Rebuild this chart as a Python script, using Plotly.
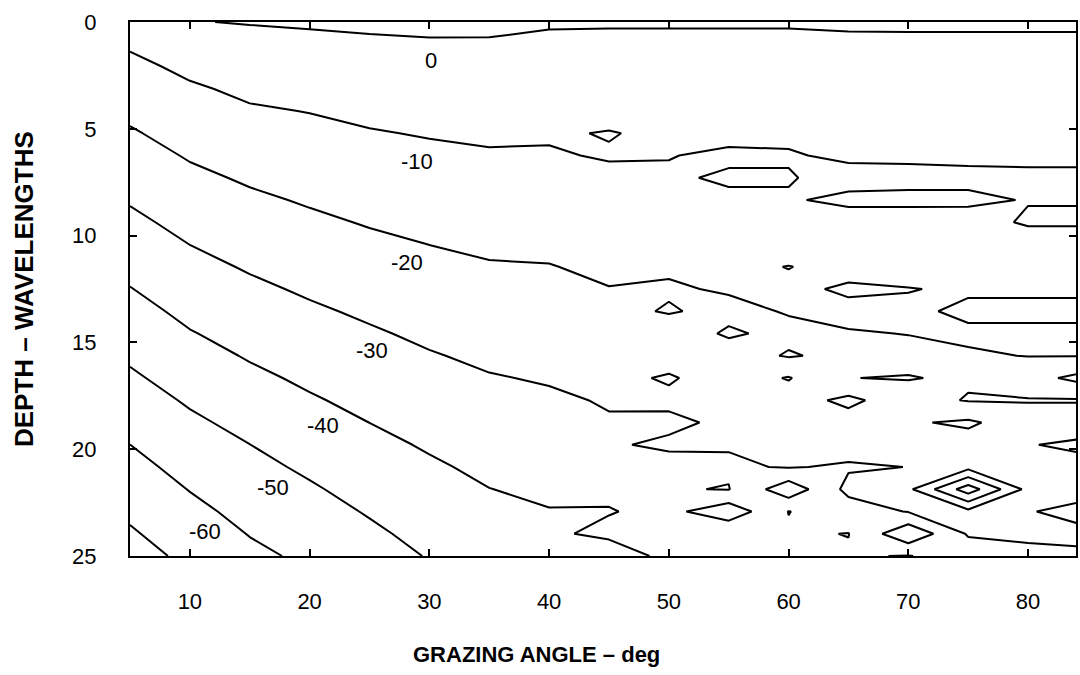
import plotly.graph_objects as go

# Grazing angle columns (deg) and depth rows (wavelengths) of the contour grid
angle = [5, 10, 15, 20, 25, 30, 35, 40, 45, 50, 55, 60, 65, 70, 75, 80, 85]
depth = [0, 1.042, 2.083, 3.125, 4.167, 5.208, 6.25, 7.292, 8.333, 9.375, 10.417,
         11.458, 12.5, 13.542, 14.583, 15.625, 16.667, 17.708, 18.75, 19.792,
         20.833, 21.875, 22.917, 23.958, 25.0]

# Level (dB) read along each angle column, top to bottom
c5 = [-1.87, -8.82, -12.37, -15.23, -18.09, -20.92, -23.69, -26.47, -29.25, -32.02, -34.78, -37.54, -40.3, -43.09, -45.85, -48.59, -51.41, -54.28, -57.15, -60.03, -62.79, -65.55, -68.32, -71.08, -73.84]
c10 = [-0.27, -4.07, -7.87, -11.18, -13.86, -16.54, -19.22, -21.9, -24.58, -27.26, -29.95, -32.58, -35.21, -37.84, -40.5, -43.3, -46.1, -48.91, -51.64, -54.32, -57.0, -59.68, -62.38, -65.08, -67.78]
c15 = [0.37, -2.48, -5.33, -8.18, -10.95, -13.6, -16.24, -18.89, -21.48, -24.04, -26.6, -29.16, -31.69, -34.21, -36.73, -39.24, -41.91, -44.63, -47.36, -50.07, -52.46, -54.86, -57.25, -59.64, -62.03]
c20 = [0.88, -1.78, -4.44, -7.1, -9.76, -12.13, -14.47, -16.81, -19.16, -21.55, -23.97, -26.39, -28.81, -31.23, -33.63, -36.03, -38.44, -40.89, -43.43, -45.98, -48.52, -51.02, -53.44, -55.86, -58.27]
c25 = [1.28, -1.09, -3.46, -5.83, -8.2, -10.53, -12.76, -14.98, -17.2, -19.4, -21.72, -24.04, -26.36, -28.68, -30.97, -33.21, -35.46, -37.71, -39.96, -42.28, -44.62, -46.95, -49.28, -51.59, -53.89]
c30 = [1.54, -0.66, -2.86, -5.07, -7.27, -9.47, -11.59, -13.68, -15.77, -17.87, -19.96, -22.08, -24.2, -26.32, -28.43, -30.56, -32.69, -34.83, -36.97, -39.1, -41.2, -43.27, -45.34, -47.4, -49.47]
c35 = [1.4, -0.63, -2.66, -4.69, -6.71, -8.74, -10.75, -12.72, -14.69, -16.65, -18.62, -20.59, -22.57, -24.55, -26.53, -28.51, -30.48, -32.41, -34.33, -36.26, -38.19, -40.12, -42.05, -43.98, -45.91]
c40 = [0.66, -1.27, -3.2, -5.13, -7.05, -8.98, -10.88, -12.76, -14.64, -16.52, -18.4, -20.27, -22.09, -23.9, -25.72, -27.53, -29.35, -31.17, -33.0, -34.84, -36.67, -38.5, -40.33, -41.67, -43.5]
c45 = [0.5, -1.22, -2.94, -4.66, -6.38, -10.5, -9.2, -12.2, -13.8, -15.4, -17.0, -18.6, -20.2, -22.03, -23.87, -25.71, -27.55, -29.39, -30.6, -31.0, -34.5, -38.1, -40.5, -37.7, -46.5]
c50 = [0.49, -1.21, -2.92, -4.62, -6.33, -8.03, -9.73, -11.0, -13.42, -15.29, -17.15, -19.01, -20.8, -19.4, -24.18, -25.87, -31.0, -28.0, -32.0, -28.4, -33.7, -30.5, -37.4, -37.0, -36.9]
c55 = [0.54, -1.33, -3.21, -5.08, -6.96, -7.9, -11.3, -9.0, -11.4, -13.36, -15.33, -17.29, -19.25, -22.0, -19.0, -23.77, -25.21, -26.65, -28.09, -29.5, -31.0, -29.7, -46.3, -31.0, -36.0]
c60 = [0.54, -1.31, -3.15, -5.0, -6.84, -8.45, -10.64, -9.5, -10.7, -12.46, -14.21, -20.3, -17.72, -19.47, -22.0, -19.3, -30.6, -25.45, -26.92, -28.4, -29.5, -46.4, -29.8, -31.0, -32.0]
c65 = [0.73, -0.96, -2.65, -4.35, -6.04, -7.73, -8.67, -12.6, -8.37, -13.6, -15.0, -16.4, -21.5, -17.5, -20.63, -22.2, -20.1, -32.5, -25.5, -26.5, -31.0, -27.3, -35.0, -29.8, -31.0]
c70 = [0.76, -0.93, -2.61, -4.3, -5.99, -7.67, -8.87, -11.83, -8.5, -13.3, -14.6, -15.9, -20.3, -18.5, -19.8, -22.5, -19.6, -23.6, -29.0, -27.0, -29.9, -28.0, -29.5, -47.9, -29.5]
c75 = [0.75, -0.91, -2.57, -4.24, -5.9, -7.56, -8.38, -11.83, -8.5, -13.5, -15.0, -16.3, -19.0, -21.5, -18.67, -20.85, -21.2, -19.4, -31.5, -26.0, -27.0, -55.5, -27.5, -29.0, -35.75]
c80 = [0.74, -0.9, -2.54, -4.17, -5.81, -7.45, -9.09, -10.8, -10.4, -8.9, -15.0, -16.5, -19.0, -21.5, -18.67, -19.8, -26.0, -19.4, -24.75, -29.5, -27.0, -27.0, -29.5, -29.3, -31.0]
c85 = [0.74, -0.9, -2.54, -4.17, -5.81, -7.45, -9.09, -10.8, -10.4, -8.9, -15.0, -16.5, -19.0, -21.5, -18.67, -19.8, -34.0, -19.4, -24.75, -32.3, -27.0, -27.0, -33.0, -28.5, -31.0]

columns = [c5, c10, c15, c20, c25, c30, c35, c40, c45, c50, c55, c60, c65, c70, c75, c80, c85]
z = [[col[i] for col in columns] for i in range(len(depth))]

# Contour labels
label_text = ["0", "-10", "-20", "-30", "-40", "-50", "-60"]
label_angle = [30.17, 29.0, 28.17, 25.25, 21.08, 16.92, 11.25]
label_depth = [1.78, 6.55, 11.24, 15.4, 18.87, 21.77, 23.83]

x_ticks = [10, 20, 30, 40, 50, 60, 70, 80]
y_ticks = [0, 5, 10, 15, 20, 25]

FONT = "Liberation Sans"

fig = go.Figure()
fig.add_trace(go.Contour(
    x=angle, y=depth, z=z,
    contours=dict(start=-70, end=0, size=10, coloring="lines", showlabels=False),
    line=dict(width=2, smoothing=0),
    colorscale=[[0, "black"], [1, "black"]],
    showscale=False, hoverinfo="skip",
))

annotations = []
for t, a, d in zip(label_text, label_angle, label_depth):
    annotations.append(dict(x=a, y=d, xref="x", yref="y", text=t, showarrow=False,
                            font=dict(family=FONT, size=22, color="black"),
                            xanchor="center", yanchor="middle"))
annotations.append(dict(x=0.43, y=-0.185, xref="paper", yref="paper",
                        text="<b>GRAZING ANGLE – deg</b>", showarrow=False,
                        font=dict(family=FONT, size=22, color="black"),
                        xanchor="center", yanchor="middle"))
annotations.append(dict(x=-0.112, y=0.5, xref="paper", yref="paper",
                        text="<b>DEPTH – WAVELENGTHS</b>", showarrow=False, textangle=-90,
                        font=dict(family=FONT, size=26, color="black"),
                        xanchor="center", yanchor="middle"))

axis_common = dict(showgrid=False, zeroline=False, showline=True, linecolor="black",
                   linewidth=2, ticks="inside", ticklen=7, tickwidth=1.5,
                   tickcolor="black", mirror="ticks",
                   tickfont=dict(family=FONT, size=22, color="black"))

fig.update_layout(
    width=1080, height=675,
    margin=dict(l=130, r=2, t=22, b=119),
    paper_bgcolor="white", plot_bgcolor="white",
    xaxis=dict(range=[5, 84], tickvals=x_ticks, ticklabelstandoff=25, **axis_common),
    yaxis=dict(range=[25, 0], tickvals=y_ticks, ticklabelstandoff=27, **axis_common),
    annotations=annotations,
    showlegend=False,
)

fig.write_html("out.html")
